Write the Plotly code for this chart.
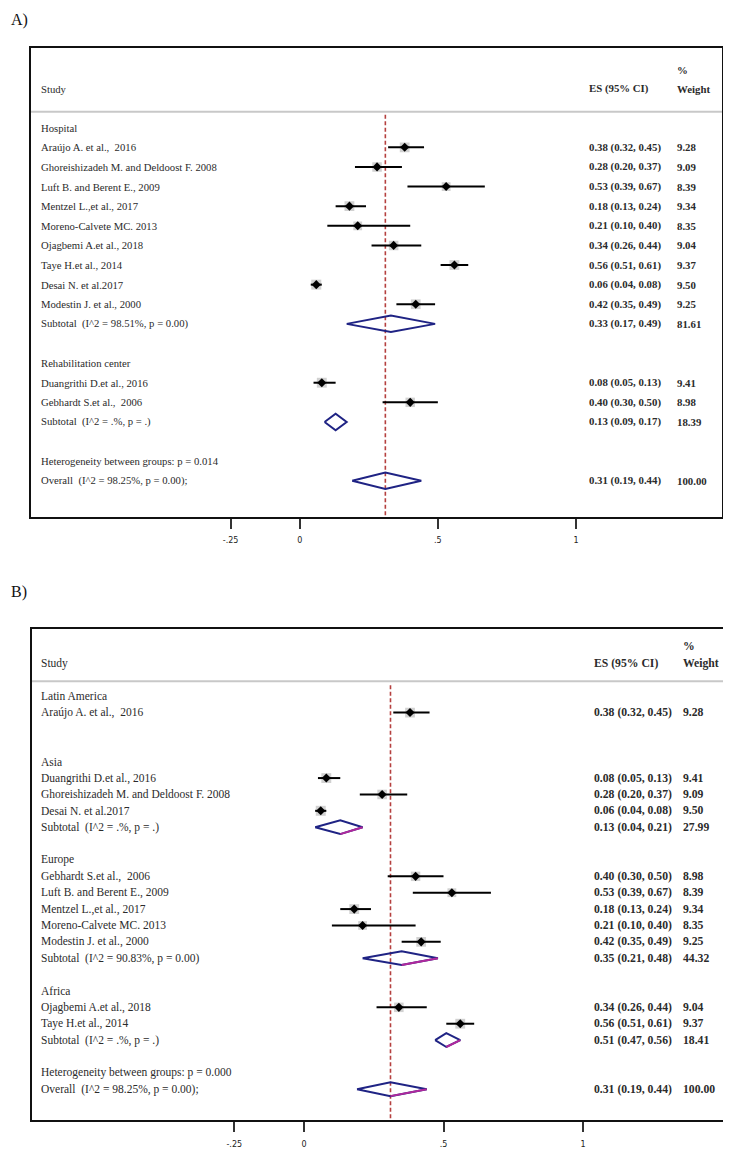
import plotly.graph_objects as go

# ---------------- Panel A data ----------------
A_labels = ["Hospital",
            "Araújo A. et al.,  2016",
            "Ghoreishizadeh M. and Deldoost F. 2008",
            "Luft B. and Berent E., 2009",
            "Mentzel L.,et al., 2017",
            "Moreno-Calvete MC. 2013",
            "Ojagbemi A.et al., 2018",
            "Taye H.et al., 2014",
            "Desai N. et al.2017",
            "Modestin J. et al., 2000",
            "Subtotal  (I^2 = 98.51%, p = 0.00)",
            "",
            "Rehabilitation center",
            "Duangrithi D.et al., 2016",
            "Gebhardt S.et al.,  2006",
            "Subtotal  (I^2 = .%, p = .)",
            "",
            "Heterogeneity between groups: p = 0.014",
            "Overall  (I^2 = 98.25%, p = 0.00);"]
A_kind = ["group", "study", "study", "study", "study", "study", "study", "study", "study", "study",
          "pooled", "blank", "group", "study", "study", "pooled", "blank", "het", "pooled"]
A_es = [None, 0.38, 0.28, 0.53, 0.18, 0.21, 0.34, 0.56, 0.06, 0.42, 0.33, None,
        None, 0.08, 0.40, 0.13, None, None, 0.31]
A_lo = [None, 0.32, 0.20, 0.39, 0.13, 0.10, 0.26, 0.51, 0.04, 0.35, 0.17, None,
        None, 0.05, 0.30, 0.09, None, None, 0.19]
A_hi = [None, 0.45, 0.37, 0.67, 0.24, 0.40, 0.44, 0.61, 0.08, 0.49, 0.49, None,
        None, 0.13, 0.50, 0.17, None, None, 0.44]
A_wt = [None, 9.28, 9.09, 8.39, 9.34, 8.35, 9.04, 9.37, 9.50, 9.25, 81.61, None,
        None, 9.41, 8.98, 18.39, None, None, 100.00]
A_overall = 0.31

# ---------------- Panel B data ----------------
B_labels = ["Latin America",
            "Araújo A. et al.,  2016",
            "",
            "",
            "Asia",
            "Duangrithi D.et al., 2016",
            "Ghoreishizadeh M. and Deldoost F. 2008",
            "Desai N. et al.2017",
            "Subtotal  (I^2 = .%, p = .)",
            "",
            "Europe",
            "Gebhardt S.et al.,  2006",
            "Luft B. and Berent E., 2009",
            "Mentzel L.,et al., 2017",
            "Moreno-Calvete MC. 2013",
            "Modestin J. et al., 2000",
            "Subtotal  (I^2 = 90.83%, p = 0.00)",
            "",
            "Africa",
            "Ojagbemi A.et al., 2018",
            "Taye H.et al., 2014",
            "Subtotal  (I^2 = .%, p = .)",
            "",
            "Heterogeneity between groups: p = 0.000",
            "Overall  (I^2 = 98.25%, p = 0.00);"]
B_kind = ["group", "study", "blank", "blank", "group", "study", "study", "study", "pooled", "blank",
          "group", "study", "study", "study", "study", "study", "pooled", "blank",
          "group", "study", "study", "pooled", "blank", "het", "pooled"]
B_es = [None, 0.38, None, None, None, 0.08, 0.28, 0.06, 0.13, None,
        None, 0.40, 0.53, 0.18, 0.21, 0.42, 0.35, None,
        None, 0.34, 0.56, 0.51, None, None, 0.31]
B_lo = [None, 0.32, None, None, None, 0.05, 0.20, 0.04, 0.04, None,
        None, 0.30, 0.39, 0.13, 0.10, 0.35, 0.21, None,
        None, 0.26, 0.51, 0.47, None, None, 0.19]
B_hi = [None, 0.45, None, None, None, 0.13, 0.37, 0.08, 0.21, None,
        None, 0.50, 0.67, 0.24, 0.40, 0.49, 0.48, None,
        None, 0.44, 0.61, 0.56, None, None, 0.44]
B_wt = [None, 9.28, None, None, None, 9.41, 9.09, 9.50, 27.99, None,
        None, 8.98, 8.39, 9.34, 8.35, 9.25, 44.32, None,
        None, 9.04, 9.37, 18.41, None, None, 100.00]
B_overall = 0.31

tick_vals = [-0.25, 0, 0.5, 1]
tick_text = ["-.25", "0", ".5", "1"]

OFF = 8  # default page body margin of the html
W, H = 731 - OFF, 1149 - OFF
TXT = "#2b2b2b"
SERIF = "Liberation Serif, Times New Roman, serif"
NAVY = "#1f2384"
MAGENTA = "#b0289c"
RED = "#b5403f"


def px_x(p):
    return (p - OFF) / W


def px_y(p):
    return 1 - (p - OFF) / H


fig = go.Figure()
annotations = []
shapes = []


def panel(labels, kind, es, lo, hi, wt, overall, xs, ys, yrng, geo, magenta, fs, fs2):
    n = len(labels)
    rows = list(range(n))
    sx = [es[i] for i in rows if kind[i] == "study"]
    sy = [i for i in rows if kind[i] == "study"]
    slo = [es[i] - lo[i] for i in rows if kind[i] == "study"]
    shi = [hi[i] - es[i] for i in rows if kind[i] == "study"]
    sw = [wt[i] for i in rows if kind[i] == "study"]
    # overall reference line (dashed)
    fig.add_trace(go.Scatter(x=[overall, overall], y=[geo["red_top"], yrng[0]], mode="lines",
                             line=dict(color=RED, width=1.6, dash="4px,2.5px"),
                             xaxis=xs, yaxis=ys, hoverinfo="skip", showlegend=False))
    # weight boxes
    fig.add_trace(go.Scatter(x=sx, y=sy, mode="markers",
                             marker=dict(symbol="square", color="#bdbdbd", size=[w * 1.05 for w in sw],
                                         line=dict(width=0)),
                             xaxis=xs, yaxis=ys, hoverinfo="skip", showlegend=False))
    # CIs + point estimates
    fig.add_trace(go.Scatter(x=sx, y=sy, mode="markers",
                             marker=dict(symbol="diamond", color="black", size=7),
                             error_x=dict(type="data", symmetric=False, array=shi, arrayminus=slo,
                                          color="black", thickness=2, width=0),
                             xaxis=xs, yaxis=ys, hoverinfo="skip", showlegend=False))
    # pooled diamonds
    h = geo["dh"]
    dx, dy, mx, my = [], [], [], []
    for i in rows:
        if kind[i] == "pooled":
            dx += [lo[i], es[i], hi[i], es[i], lo[i], None]
            dy += [i, i - h, i, i + h, i, None]
            mx += [es[i], hi[i], None]
            my += [i + h, i, None]
    fig.add_trace(go.Scatter(x=dx, y=dy, mode="lines", line=dict(color=NAVY, width=2),
                             xaxis=xs, yaxis=ys, hoverinfo="skip", showlegend=False))
    if magenta:
        fig.add_trace(go.Scatter(x=mx, y=my, mode="lines", line=dict(color=MAGENTA, width=2),
                                 xaxis=xs, yaxis=ys, hoverinfo="skip", showlegend=False))

    def ann(x, y, text, size):
        annotations.append(dict(x=x, y=y, xref=xs, yref=ys, text=text, showarrow=False,
                                xanchor="left", yanchor="middle", borderpad=0,
                                font=dict(family=SERIF, size=size, color=TXT)))

    for i in rows:
        if labels[i]:
            ann(geo["x_lab"], i, labels[i].replace("  ", "\u00a0\u00a0"), fs)
        if es[i] is not None:
            ann(geo["x_es"], i, "<b>%.2f (%.2f, %.2f)</b>" % (es[i], lo[i], hi[i]), fs2)
            ann(geo["x_wt"], i, "<b>%.2f</b>" % wt[i], fs2)
    ann(geo["x_lab"], geo["hdr"], "Study", fs)
    ann(geo["x_es"], geo["hdr"], "<b>ES (95% CI)</b>", fs2)
    ann(geo["x_wt"], geo["hdr"], "<b>Weight</b>", fs2)
    ann(geo["x_wt"], geo["pct"], "<b>%</b>", fs2)
    shapes.append(dict(type="line", xref=xs + " domain", yref=ys, x0=0, x1=1,
                       y0=geo["sep"], y1=geo["sep"], line=dict(color="#c8c8c8", width=2)))


# Panel A geometry (reference pixels -> data units)
A_x0, A_u = 299.7, 276.3
A_y0, A_r = 128.0, 19.67
A_xr = [(31 - A_x0) / A_u, (722 - A_x0) / A_u]
A_yr = [(518 - A_y0) / A_r, (48 - A_y0) / A_r]
A_geo = dict(x_lab=(40 - A_x0) / A_u, x_es=(588 - A_x0) / A_u, x_wt=(676 - A_x0) / A_u,
             hdr=(89 - A_y0) / A_r, pct=(70 - A_y0) / A_r, sep=(112 - A_y0) / A_r,
             red_top=(115 - A_y0) / A_r, dh=0.42)
B_x0, B_u = 304.0, 279.0
B_y0, B_r = 698.0, 16.42
B_xr = [(32 - B_x0) / B_u, (727 - B_x0) / B_u]
B_yr = [(1123 - B_y0) / B_r, (631 - B_y0) / B_r]
B_geo = dict(x_lab=(40 - B_x0) / B_u, x_es=(593 - B_x0) / B_u, x_wt=(682 - B_x0) / B_u,
             hdr=(665 - B_y0) / B_r, pct=(648 - B_y0) / B_r, sep=(683 - B_y0) / B_r,
             red_top=(687 - B_y0) / B_r, dh=0.42)

panel(A_labels, A_kind, A_es, A_lo, A_hi, A_wt, A_overall, "x", "y", A_yr, A_geo, False, 10.7, 10.8)
panel(B_labels, B_kind, B_es, B_lo, B_hi, B_wt, B_overall, "x2", "y2", B_yr, B_geo, True, 11.5, 11.7)


def axcfg(dom, rng):
    return dict(domain=dom, range=rng, showgrid=False, zeroline=False, showline=True,
                linecolor="#111", linewidth=2, mirror=True, fixedrange=True)


xa = dict(tickmode="array", tickvals=tick_vals, ticktext=tick_text, ticks="outside", ticklen=10,
          tickwidth=2, tickcolor="#333", ticklabelstandoff=5,
          tickfont=dict(family="DejaVu Sans, Verdana, sans-serif", size=8, color="#222"))
fig.update_layout(
    width=W, height=H, margin=dict(l=0, r=0, t=0, b=0),
    paper_bgcolor="white", plot_bgcolor="white",
    xaxis=dict(axcfg([px_x(31), px_x(722)], A_xr), anchor="y", **xa),
    yaxis=dict(axcfg([px_y(518), px_y(48)], A_yr), anchor="x", showticklabels=False, ticks=""),
    xaxis2=dict(axcfg([px_x(32), px_x(727)], B_xr), anchor="y2", **xa),
    yaxis2=dict(axcfg([px_y(1123), px_y(631)], B_yr), anchor="x2", showticklabels=False, ticks=""),
    annotations=annotations + [
        dict(x=px_x(9), y=px_y(9), xref="paper", yref="paper", text="A)", showarrow=False,
             xanchor="left", yanchor="top", font=dict(family=SERIF, size=16, color="#111")),
        dict(x=px_x(9), y=px_y(594), xref="paper", yref="paper", text="B)", showarrow=False,
             xanchor="left", yanchor="middle", font=dict(family=SERIF, size=16, color="#111")),
    ],
    shapes=shapes,
)

fig.write_html("out.html")
